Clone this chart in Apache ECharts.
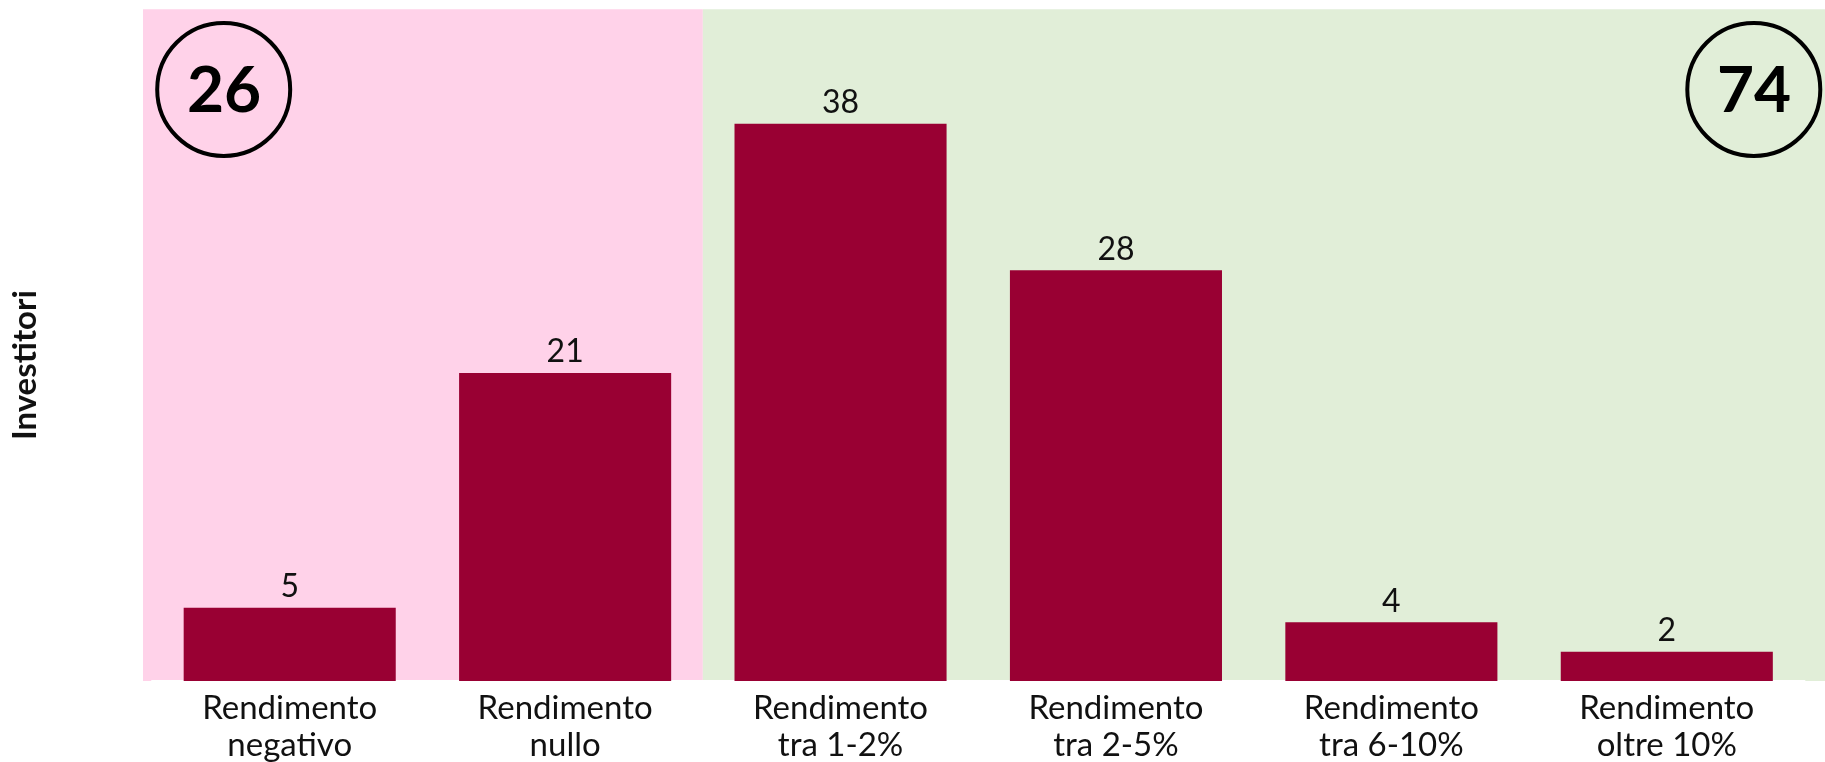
<!DOCTYPE html>
<html>
<head>
<meta charset="utf-8">
<script src="https://cdn.jsdelivr.net/npm/echarts@6/dist/echarts.min.js"></script>
<style>
html,body{margin:0;padding:0;background:#fff;}
#chart{width:1825px;height:762px;}
</style>
</head>
<body>
<div id="chart"></div>
<script>
// ---- data ----
var categories = [
  'Rendimento\nnegativo',
  'Rendimento\nnullo',
  'Rendimento\ntra 1-2%',
  'Rendimento\ntra 2-5%',
  'Rendimento\ntra 6-10%',
  'Rendimento\noltre 10%'
];
var values = [5, 21, 38, 28, 4, 2];
var groupStart = [0, 2];
var groupEnd = [1, 5];
var groupTotals = ['26', '74'];
var groupColors = ['#FFD2E9', '#E1EED8'];
var yAxisName = 'Investitori';
var yMax = 45.8;

var FONT = 'Lato, "Noto Sans", sans-serif';
var chart = echarts.init(document.getElementById('chart'), null, {renderer: 'canvas'});

var bandData = groupStart.map(function (s, i) { return [s, groupEnd[i], i]; });

var option = {
  animation: false,
  backgroundColor: '#ffffff',
  grid: {left: 152, right: 20.5, top: 9.3, bottom: 81, containLabel: false, outerBoundsMode: 'none'},
  xAxis: {
    type: 'category',
    data: categories,
    axisTick: {show: false},
    axisLine: {show: true, lineStyle: {color: '#ffffff', width: 2}},
    axisLabel: {
      color: '#111111', fontFamily: FONT, fontSize: 33, lineHeight: 37, margin: 9,
      interval: 0
    },
    splitLine: {show: false}
  },
  yAxis: {
    type: 'value',
    min: 0, max: yMax,
    axisLabel: {show: false},
    axisTick: {show: false},
    axisLine: {show: false},
    splitLine: {show: false},
    name: yAxisName,
    nameLocation: 'middle',
    nameGap: 110,
    nameRotate: 90,
    nameTextStyle: {
      color: '#111111', fontFamily: FONT, fontSize: 33, fontWeight: 'bold',
      padding: [0, 40, 0, 0]
    }
  },
  series: [
    {
      type: 'custom',
      z: 0,
      silent: true,
      clip: false,
      data: bandData,
      renderItem: function (params, api) {
        var s = api.value(0), e = api.value(1), idx = api.value(2);
        var cs = params.coordSys;
        var bw = api.size([1, 0])[0];
        var x0 = api.coord([s, 0])[0] - bw / 2;
        var x1 = api.coord([e, 0])[0] + bw / 2;
        if (s === 0) x0 = cs.x - 9;
        if (idx === groupStart.length - 1) x1 = api.getWidth();
        return {
          type: 'rect',
          shape: {x: x0, y: cs.y, width: x1 - x0, height: cs.height},
          style: {fill: groupColors[idx]}
        };
      }
    },
    {
      type: 'bar',
      z: 2,
      data: values,
      barWidth: '77%',
      itemStyle: {color: '#990033'},
      label: {
        show: true, position: 'top', distance: 5,
        color: '#111111', fontFamily: FONT, fontSize: 32
      }
    }
  ],
  graphic: {
    elements: [
      {type: 'circle', z: 100, shape: {cx: 223.7, cy: 89.5, r: 66.5}, style: {fill: 'transparent', stroke: '#000000', lineWidth: 4}},
      {type: 'text', z: 100, x: 224, y: 91, style: {text: groupTotals[0], fill: '#000000', fontSize: 64, fontWeight: 'bold', fontFamily: FONT, align: 'center', verticalAlign: 'middle'}},
      {type: 'circle', z: 100, shape: {cx: 1753.8, cy: 89.5, r: 66.5}, style: {fill: 'transparent', stroke: '#000000', lineWidth: 4}},
      {type: 'text', z: 100, x: 1754, y: 91, style: {text: groupTotals[1], fill: '#000000', fontSize: 64, fontWeight: 'bold', fontFamily: FONT, align: 'center', verticalAlign: 'middle'}}
    ]
  }
};
chart.setOption(option);
</script>
</body>
</html>
